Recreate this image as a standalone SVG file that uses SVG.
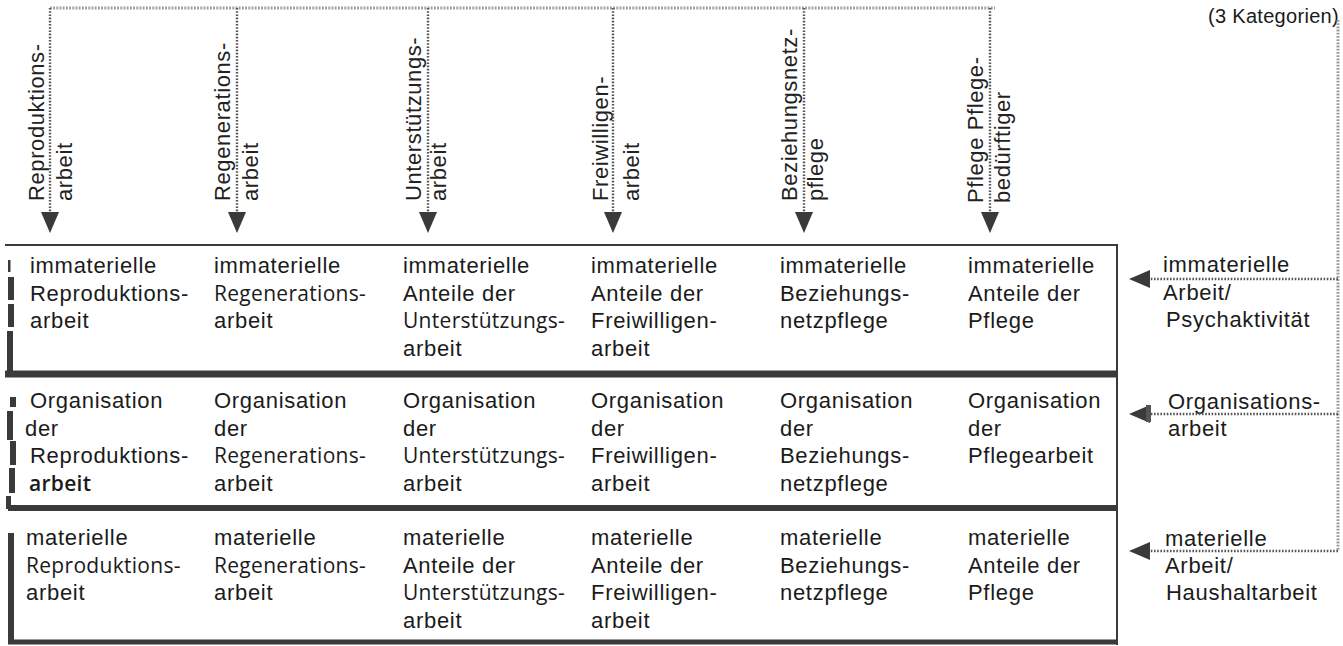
<svg xmlns="http://www.w3.org/2000/svg" width="1343" height="646" viewBox="0 0 1343 646">
  <style>
    .t { font-family: "Liberation Sans", Arial, sans-serif; font-size: 22px; letter-spacing: 0.7px; fill: #1b1b1b; }
    .h { font-family: "Open Sans", "Liberation Sans", sans-serif; font-size: 21px; letter-spacing: 0.3px; }
    .v { font-family: "Liberation Sans", Arial, sans-serif; font-size: 22px; letter-spacing: 0.6px; fill: #222; }
    .s { font-family: "Liberation Sans", Arial, sans-serif; font-size: 20px; letter-spacing: 0.3px; fill: #1b1b1b; }
    .dot { fill: none; stroke: #555; stroke-width: 2.4; stroke-dasharray: 1.6 1.6; }
    .dotl { fill: none; stroke: #9a9a9a; stroke-width: 3; stroke-dasharray: 1.8 1.4; }
    .frame { fill: none; stroke: #3a3a3a; }
    .edge { fill: #3a3a3a; }
  </style>
  <defs>
    <marker id="tri" markerUnits="userSpaceOnUse" markerWidth="21" markerHeight="18" viewBox="0 0 21 18" refX="0" refY="9" orient="auto">
      <path d="M0,0 L21,9 L0,18 Z" fill="#3a3a3a"/>
    </marker>
  </defs>

  <rect width="1343" height="646" fill="#fff"/>

  <!-- header labels, rotated to read upwards -->
  <g id="head-reproduktion">
    <text class="v" transform="translate(44,201) rotate(-90)"><tspan x="0" y="0">Reproduktions-</tspan><tspan x="0" dy="28">arbeit</tspan></text>
  </g>
  <g id="head-regeneration">
    <text class="v" transform="translate(230,201) rotate(-90)"><tspan x="0" y="0">Regenerations-</tspan><tspan x="0" dy="28">arbeit</tspan></text>
  </g>
  <g id="head-unterstuetzung">
    <text class="v" transform="translate(421,201) rotate(-90)"><tspan x="0" y="0">Unterstützungs-</tspan><tspan x="0" dy="25">arbeit</tspan></text>
  </g>
  <g id="head-freiwilligen">
    <text class="v" transform="translate(608,201) rotate(-90)"><tspan x="0" y="0">Freiwilligen-</tspan><tspan x="0" dy="31">arbeit</tspan></text>
  </g>
  <g id="head-beziehung">
    <text class="v" transform="translate(797,201) rotate(-90)"><tspan x="0" y="0">Beziehungsnetz-</tspan><tspan x="0" dy="26">pflege</tspan></text>
  </g>
  <g id="head-pflege">
    <text class="v" transform="translate(983,203) rotate(-90)"><tspan x="0" y="0">Pflege Pflege-</tspan><tspan x="0" dy="27">bedürftiger</tspan></text>
  </g>
  <g id="head-kategorien">
    <text class="s" x="1208" y="23">(3 Kategorien)</text>
  </g>

  <!-- row frames -->
  <g id="frames">
    <line class="frame" x1="5" y1="245" x2="1118" y2="245" stroke-width="2"/>
    <line class="frame" x1="1117" y1="244" x2="1117" y2="645" stroke-width="2"/>
    <line class="frame" x1="5" y1="374" x2="1118" y2="374" stroke-width="7"/>
    <line class="frame" x1="8" y1="508" x2="1118" y2="508" stroke-width="6"/>
    <line class="frame" x1="8" y1="642" x2="1118" y2="642" stroke-width="5"/>
    <!-- broken left edges -->
    <rect class="edge" x="8" y="260" width="2.5" height="12"/>
    <rect class="edge" x="8" y="277" width="6" height="23"/>
    <rect class="edge" x="8" y="304" width="6" height="23"/>
    <rect class="edge" x="7" y="331" width="6" height="44"/>
    <rect class="edge" x="10" y="397" width="6" height="10"/>
    <rect class="edge" x="7" y="411" width="6" height="29"/>
    <rect class="edge" x="10" y="441" width="6" height="24"/>
    <rect class="edge" x="9" y="468" width="6" height="25"/>
    <rect class="edge" x="6" y="496" width="5" height="13"/>
    <rect class="edge" x="8" y="533" width="6" height="111"/>
  </g>

  <!-- row 1: immaterielle Anteile -->
  <g id="r1c1"><text class="t" y="273"><tspan x="30">immaterielle</tspan><tspan x="30" dy="27.7">Reproduktions-</tspan><tspan x="30" dy="27.7">arbeit</tspan></text></g>
  <g id="r1c2"><text class="t" y="273"><tspan x="214">immaterielle</tspan><tspan x="214" dy="27.7" class="h">Regenerations-</tspan><tspan x="214" dy="27.7">arbeit</tspan></text></g>
  <g id="r1c3"><text class="t" y="273"><tspan x="403">immaterielle</tspan><tspan x="403" dy="27.7">Anteile der</tspan><tspan x="403" dy="27.7" class="h">Unterstützungs-</tspan><tspan x="403" dy="27.7">arbeit</tspan></text></g>
  <g id="r1c4"><text class="t" y="273"><tspan x="591">immaterielle</tspan><tspan x="591" dy="27.7">Anteile der</tspan><tspan x="591" dy="27.7">Freiwilligen-</tspan><tspan x="591" dy="27.7">arbeit</tspan></text></g>
  <g id="r1c5"><text class="t" y="273"><tspan x="780">immaterielle</tspan><tspan x="780" dy="27.7">Beziehungs-</tspan><tspan x="780" dy="27.7">netzpflege</tspan></text></g>
  <g id="r1c6"><text class="t" y="273"><tspan x="968">immaterielle</tspan><tspan x="968" dy="27.7">Anteile der</tspan><tspan x="968" dy="27.7">Pflege</tspan></text></g>

  <!-- row 2: Organisation -->
  <g id="r2c1"><text class="t" y="408"><tspan x="30">Organisation</tspan><tspan x="25" dy="27.5">der</tspan><tspan x="30" dy="27.5">Reproduktions-</tspan><tspan x="29" dy="27.5" class="h" font-weight="600">arbeit</tspan></text></g>
  <g id="r2c2"><text class="t" y="408"><tspan x="214">Organisation</tspan><tspan x="214" dy="27.5">der</tspan><tspan x="214" dy="27.5" class="h">Regenerations-</tspan><tspan x="214" dy="27.5">arbeit</tspan></text></g>
  <g id="r2c3"><text class="t" y="408"><tspan x="403">Organisation</tspan><tspan x="403" dy="27.5">der</tspan><tspan x="403" dy="27.5" class="h">Unterstützungs-</tspan><tspan x="403" dy="27.5">arbeit</tspan></text></g>
  <g id="r2c4"><text class="t" y="408"><tspan x="591">Organisation</tspan><tspan x="591" dy="27.5">der</tspan><tspan x="591" dy="27.5">Freiwilligen-</tspan><tspan x="591" dy="27.5">arbeit</tspan></text></g>
  <g id="r2c5"><text class="t" y="408"><tspan x="780">Organisation</tspan><tspan x="780" dy="27.5">der</tspan><tspan x="780" dy="27.5">Beziehungs-</tspan><tspan x="780" dy="27.5">netzpflege</tspan></text></g>
  <g id="r2c6"><text class="t" y="408"><tspan x="968">Organisation</tspan><tspan x="968" dy="27.5">der</tspan><tspan x="968" dy="27.5">Pflegearbeit</tspan></text></g>

  <!-- row 3: materielle Anteile -->
  <g id="r3c1"><text class="t" y="545"><tspan x="26">materielle</tspan><tspan x="26" dy="27.5" class="h">Reproduktions-</tspan><tspan x="26" dy="27.5">arbeit</tspan></text></g>
  <g id="r3c2"><text class="t" y="545"><tspan x="214">materielle</tspan><tspan x="214" dy="27.5" class="h">Regenerations-</tspan><tspan x="214" dy="27.5">arbeit</tspan></text></g>
  <g id="r3c3"><text class="t" y="545"><tspan x="403">materielle</tspan><tspan x="403" dy="27.5">Anteile der</tspan><tspan x="403" dy="27.5" class="h">Unterstützungs-</tspan><tspan x="403" dy="27.5">arbeit</tspan></text></g>
  <g id="r3c4"><text class="t" y="545"><tspan x="591">materielle</tspan><tspan x="591" dy="27.5">Anteile der</tspan><tspan x="591" dy="27.5">Freiwilligen-</tspan><tspan x="591" dy="27.5">arbeit</tspan></text></g>
  <g id="r3c5"><text class="t" y="545"><tspan x="780">materielle</tspan><tspan x="780" dy="27.5">Beziehungs-</tspan><tspan x="780" dy="27.5">netzpflege</tspan></text></g>
  <g id="r3c6"><text class="t" y="545"><tspan x="968">materielle</tspan><tspan x="968" dy="27.5">Anteile der</tspan><tspan x="968" dy="27.5">Pflege</tspan></text></g>

  <!-- category labels on the right -->
  <g id="cat-immateriell"><text class="t" y="272"><tspan x="1163">immaterielle</tspan><tspan x="1163" dy="27.5">Arbeit/</tspan><tspan x="1166" dy="27.5">Psychaktivität</tspan></text></g>
  <g id="cat-organisation"><text class="t" y="409"><tspan x="1168">Organisations-</tspan><tspan x="1168" dy="27">arbeit</tspan></text></g>
  <g id="cat-materiell"><text class="t" y="546"><tspan x="1165">materielle</tspan><tspan x="1165" dy="27">Arbeit/</tspan><tspan x="1166" dy="27">Haushaltarbeit</tspan></text></g>

  <!-- connectors -->
  <g id="connectors">
    <path class="dotl" d="M50,8 H995"/>
    <path class="dot" d="M50,8 V212" marker-end="url(#tri)"/>
    <path class="dot" d="M237,8 V212" marker-end="url(#tri)"/>
    <path class="dot" d="M428,8 V212" marker-end="url(#tri)"/>
    <path class="dot" d="M613,8 V212" marker-end="url(#tri)"/>
    <path class="dot" d="M804,8 V212" marker-end="url(#tri)"/>
    <path class="dot" d="M990,8 V212" marker-end="url(#tri)"/>

    <path class="dotl" d="M1338,20 V551"/>
    <path class="dot" d="M1338,279 H1150" marker-end="url(#tri)"/>
    <path class="dot" d="M1338,414 H1150" marker-end="url(#tri)"/>
    <rect x="1146" y="405" width="5" height="17" fill="#555"/>
    <path class="dot" d="M1338,551 H1150" marker-end="url(#tri)"/>
  </g>
</svg>
